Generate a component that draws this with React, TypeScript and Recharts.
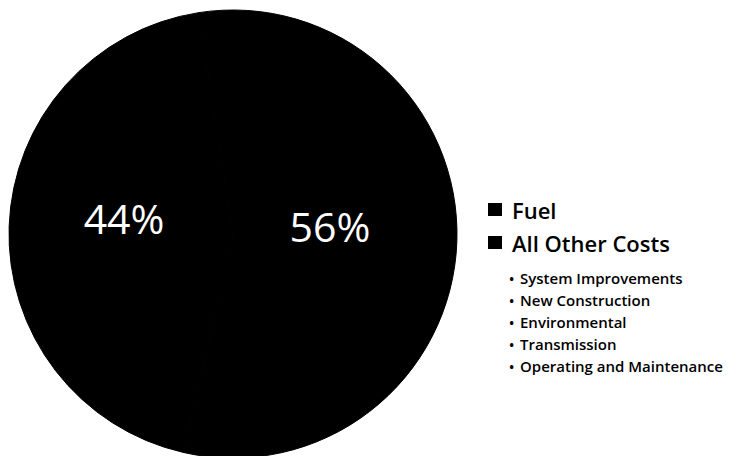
import React from "react";
import { PieChart, Pie, Cell, Legend } from "recharts";

const categories = ["Fuel", "All Other Costs"];
const shares = [44, 56];
const sliceColors = ["#000000", "#000000"];
const otherCostComponents = [
  "System Improvements",
  "New Construction",
  "Environmental",
  "Transmission",
  "Operating and Maintenance",
];

const data = categories.map((name, i) => ({ name, value: shares[i] }));
const RADIAN = Math.PI / 180;
const FONT = "'Open Sans', 'Noto Sans', sans-serif";

const renderLabel = (props: any) => {
  const { cx, cy, midAngle, outerRadius, value } = props;
  const r = outerRadius * 0.46;
  const x = cx + r * Math.cos(-midAngle * RADIAN) - 6;
  const y = cy + r * Math.sin(-midAngle * RADIAN) - 12;
  return (
    <text
      x={x}
      y={y}
      fill="#ffffff"
      textAnchor="middle"
      dominantBaseline="central"
      fontSize={41}
      fontFamily={FONT}
    >
      {`${value}%`}
    </text>
  );
};

const LegendContent = (props: any) => {
  const payload = [...(props.payload || [])].sort(
    (a: any, b: any) => categories.indexOf(a.value) - categories.indexOf(b.value)
  );
  return (
    <div style={{ fontFamily: FONT, color: "#000" }}>
      {payload.map((entry: any, i: number) => (
        <div
          key={i}
          style={{
            display: "flex",
            alignItems: "center",
            height: 33,
            fontSize: 22,
            fontWeight: 600,
            whiteSpace: "nowrap",
          }}
        >
          <span
            style={{
              display: "inline-block",
              width: 14,
              height: 13,
              background: entry.color,
              marginRight: 10,
            }}
          />
          <span>{entry.value}</span>
        </div>
      ))}
      <div style={{ marginTop: 8, paddingLeft: 21 }}>
        {otherCostComponents.map((t, i) => (
          <div
            key={i}
            style={{
              display: "flex",
              alignItems: "center",
              height: 22,
              fontSize: 15,
              fontWeight: 600,
              whiteSpace: "nowrap",
            }}
          >
            <span style={{ display: "inline-block", width: 11, fontSize: 14 }}>•</span>
            <span>{t}</span>
          </div>
        ))}
      </div>
    </div>
  );
};

export default function App() {
  return (
    <div style={{ position: "absolute", left: 0, top: 0, width: 738, height: 456, background: "#fff" }}>
      <PieChart width={738} height={456} margin={{ top: 0, right: 0, bottom: 0, left: 0 }}>
        <Pie
          data={data}
          dataKey="value"
          nameKey="name"
          cx={233}
          cy={234}
          outerRadius={224}
          startAngle={257.2}
          endAngle={-102.8}
          stroke="#000000"
          strokeWidth={1}
          labelLine={false}
          label={renderLabel}
          isAnimationActive={false}
        >
          {data.map((d, i) => (
            <Cell key={d.name} fill={sliceColors[i]} />
          ))}
        </Pie>
        <Legend
          layout="vertical"
          content={<LegendContent />}
          wrapperStyle={{ position: "absolute", left: 488, top: 193, width: 250 }}
        />
      </PieChart>
    </div>
  );
}
